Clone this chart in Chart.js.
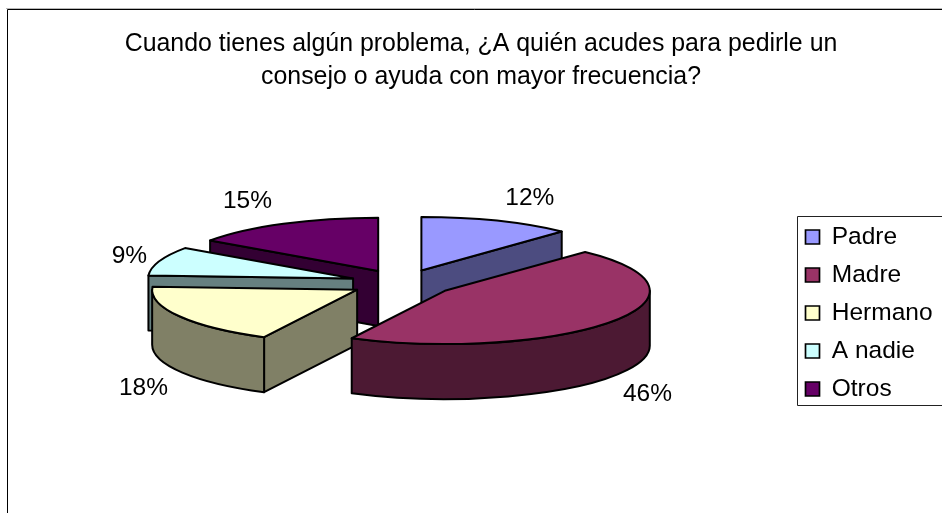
<!DOCTYPE html>
<html>
<head>
<meta charset="utf-8">
<title>Consejo o ayuda</title>
<script src="https://cdn.jsdelivr.net/npm/chart.js@4"></script>
<style>
  html, body { margin: 0; padding: 0; background: #ffffff; overflow: hidden; }
  canvas { display: block; }
</style>
</head>
<body>
<canvas id="pie3d" width="942" height="513"></canvas>
<script>
// ── DATA ──
const categories = ['Padre', 'Madre', 'Hermano', 'A nadie', 'Otros'];
const percents   = [12, 45.5, 18.4, 8.8, 15.3];   // labels show them rounded
const topColors  = ['#9999FF', '#993366', '#FFFFCC', '#CCFFFF', '#660066'];
const wallColors = ['#4C4C80', '#4C1933', '#808066', '#668080', '#330033'];
const titleLines = [
  'Cuando tienes algún problema, ¿A quién acudes para pedirle un',
  'consejo o ayuda con mayor frecuencia?'
];

// ── 3D LOOK ──
const SQUASH = 0.26;     // y scale of the pie disc
const EXPLODE = 52;      // how far slices sit from the centre
const DEPTH = 55;        // wall height
const paintOrder = [4, 0, 3, 2, 1];   // back to front
const FONT = "'Liberation Sans', Arial, sans-serif";
const INK = '#000000';

// label position relative to the rim point on each slice's bisector
const labelNudge = [[33, -23], [35, 73], [-36, 72], [-30, -5], [-36, -22]];

function traceSlice(ctx, ax, ay, r, a0, a1) {
  ctx.beginPath();
  ctx.moveTo(ax, ay);
  ctx.ellipse(ax, ay, r, r * SQUASH, 0, a0, a1);
  ctx.closePath();
}

function paintQuad(ctx, x0, y0, x1, y1, fill) {
  ctx.beginPath();
  ctx.moveTo(x0, y0);
  ctx.lineTo(x1, y1);
  ctx.lineTo(x1, y1 + DEPTH);
  ctx.lineTo(x0, y0 + DEPTH);
  ctx.closePath();
  ctx.fillStyle = fill;
  ctx.fill();
  ctx.stroke();
}

function paintSlice(ctx, arc, i) {
  const a0 = arc.startAngle, a1 = arc.endAngle, r = arc.outerRadius;
  const mid = (a0 + a1) / 2;
  const dx = Math.cos(mid) * EXPLODE;
  const dy = Math.sin(mid) * EXPLODE * SQUASH;
  const ax = arc.x + dx, ay = arc.y + dy;
  const rimX = t => ax + Math.cos(t) * r;
  const rimY = t => ay + Math.sin(t) * r * SQUASH;

  ctx.lineWidth = 2;
  ctx.lineJoin = 'round';
  ctx.strokeStyle = INK;

  // radial walls that face the viewer
  if (-Math.cos(a0) > 1e-6) paintQuad(ctx, ax, ay, rimX(a0), rimY(a0), wallColors[i]);
  if (Math.cos(a1) > 1e-6) paintQuad(ctx, ax, ay, rimX(a1), rimY(a1), wallColors[i]);

  // outer wall, only the front half of the rim
  const w0 = Math.max(a0, 0), w1 = Math.min(a1, Math.PI);
  if (w0 < w1) {
    ctx.beginPath();
    ctx.ellipse(ax, ay, r, r * SQUASH, 0, w0, w1);
    ctx.ellipse(ax, ay + DEPTH, r, r * SQUASH, 0, w1, w0, true);
    ctx.closePath();
    ctx.fillStyle = wallColors[i];
    ctx.fill();
    ctx.stroke();
  }

  // top face comes from the library's own arc element
  ctx.save();
  ctx.translate(dx, arc.y + dy);
  ctx.scale(1, SQUASH);
  ctx.translate(0, -arc.y);
  arc.draw(ctx);
  ctx.restore();

  traceSlice(ctx, ax, ay, r, a0, a1);
  ctx.stroke();
}

const pie3d = {
  id: 'pie3d',
  afterLayout(chart) {
    // legend sits against the right edge, its box runs off the canvas
    const l = chart.legend;
    const h = l.bottom - l.top, w = l.right - l.left;
    l.left = 792; l.right = l.left + w;
    l.top = 82; l.bottom = l.top + h;
    // pie centre follows the chart area, pull it left of where the legend put it
    chart.chartArea.right -= 7;
  },
  beforeDraw(chart) {
    const ctx = chart.ctx;
    ctx.save();
    // frame: only top and left show in the crop
    ctx.strokeStyle = '#b8b8b8';
    ctx.lineWidth = 1;
    ctx.beginPath(); ctx.moveTo(6, 8.5); ctx.lineTo(942, 8.5); ctx.stroke();
    ctx.strokeStyle = INK;
    ctx.beginPath();
    ctx.moveTo(7.5, 513); ctx.lineTo(7.5, 9.5); ctx.lineTo(942, 9.5);
    ctx.stroke();
    // legend box
    ctx.strokeStyle = '#222222';
    ctx.beginPath();
    ctx.moveTo(942, 216.5); ctx.lineTo(797.5, 216.5); ctx.lineTo(797.5, 405.5); ctx.lineTo(942, 405.5);
    ctx.stroke();
    ctx.restore();
  },
  beforeDatasetDraw(chart, args) {
    const ctx = chart.ctx;
    const arcs = args.meta.data;
    ctx.save();
    paintOrder.forEach(i => paintSlice(ctx, arcs[i], i));
    ctx.fillStyle = INK;
    ctx.font = '24.5px ' + FONT;
    ctx.textAlign = 'center';
    ctx.textBaseline = 'middle';
    arcs.forEach((arc, i) => {
      const mid = (arc.startAngle + arc.endAngle) / 2;
      const x = arc.x + Math.cos(mid) * (EXPLODE + arc.outerRadius);
      const y = arc.y + Math.sin(mid) * (EXPLODE + arc.outerRadius) * SQUASH;
      ctx.fillText(Math.round(percents[i]) + '%', x + labelNudge[i][0], y + labelNudge[i][1]);
    });
    ctx.restore();
    return false;
  }
};

// ── INIT ──
new Chart(document.getElementById('pie3d'), {
  type: 'pie',
  data: {
    labels: categories,
    datasets: [{
      data: percents,
      backgroundColor: topColors,
      borderWidth: 0
    }]
  },
  options: {
    responsive: false,
    animation: false,
    radius: 205,
    layout: { padding: { left: 20, right: 0, top: 0, bottom: 51 } },
    plugins: {
      tooltip: { enabled: false },
      title: {
        display: true,
        text: titleLines,
        color: INK,
        font: { family: FONT, size: 24.9, weight: 'normal', lineHeight: 1.325 },
        padding: { top: 28, bottom: 10 }
      },
      legend: {
        position: 'right',
        labels: {
          color: INK,
          boxWidth: 14,
          boxHeight: 14,
          padding: 13.5,
          font: { family: FONT, size: 24.5, lineHeight: 1 },
          generateLabels: chart => categories.map((name, i) => ({
            text: name,
            fillStyle: topColors[i],
            strokeStyle: INK,
            lineWidth: 1.7,
            index: i
          }))
        }
      }
    }
  },
  plugins: [pie3d]
});
</script>
</body>
</html>
